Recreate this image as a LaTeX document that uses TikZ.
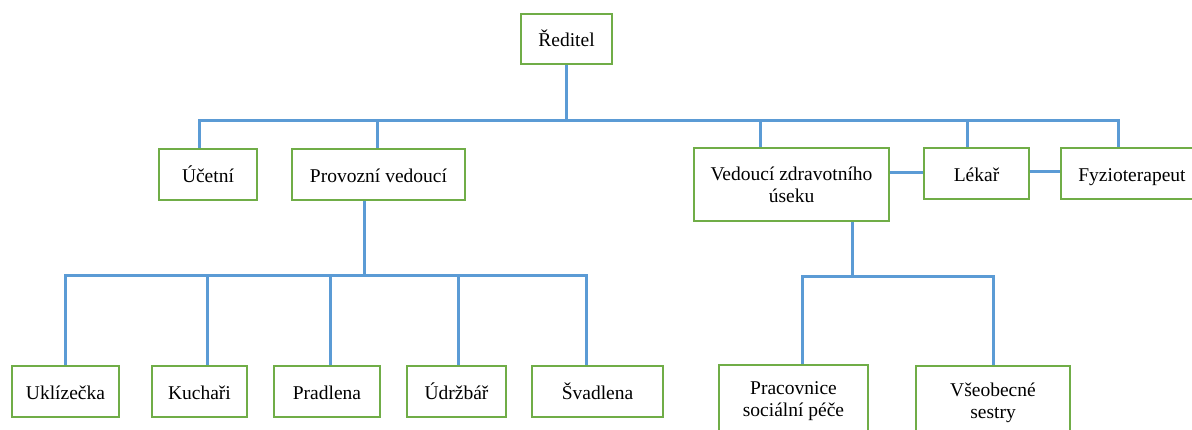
\documentclass[tikz,border=0pt]{standalone}
\usepackage{fontspec}
\setmainfont{Liberation Serif}
\definecolor{conblue}{HTML}{5B9BD5}
\definecolor{boxgreen}{HTML}{70AD47}
\begin{document}
\begin{tikzpicture}[x=1pt,y=-1pt,
  box/.style={draw=boxgreen,line width=1.8pt,fill=white,rectangle,inner sep=0pt,
    font=\fontsize{19.5}{22}\selectfont,align=center,anchor=center},
  one/.style={box,text height=17pt,text depth=1pt},
  conn/.style={draw=conblue,line width=3pt}]
\clip (0,0) rectangle (1192,430);
\fill[white] (0,0) rectangle (1192,430);
% top
\node[one,minimum width=91pt,minimum height=50pt] (red) at (566.5,39) {Ředitel};
% level 1
\node[one,minimum width=98pt,minimum height=51pt] (uc) at (208,174.5) {Účetní};
\node[one,minimum width=173pt,minimum height=51pt] (pv) at (378.5,174.5) {Provozní vedoucí};
\node[box,minimum width=195pt,minimum height=73pt] (vz) at (791.5,184.5) {Vedoucí zdravotního\\úseku};
\node[one,minimum width=105pt,minimum height=51pt] (lek) at (976.5,173.5) {Lékař};
\node[one,minimum width=142pt,minimum height=51pt] (fyz) at (1132,173.5) {Fyzioterapeut};
% level 2
\node[one,minimum width=107pt,minimum height=51pt] (ukl) at (65.5,391.5) {Uklízečka};
\node[one,minimum width=95pt,minimum height=51pt] (kuch) at (199.5,391.5) {Kuchaři};
\node[one,minimum width=106pt,minimum height=51pt] (prad) at (327,391.5) {Pradlena};
\node[one,minimum width=99pt,minimum height=51pt] (udr) at (456.5,391.5) {Údržbář};
\node[one,minimum width=131pt,minimum height=51pt] (sva) at (597.5,391.5) {Švadlena};
\node[box,minimum width=149pt,minimum height=73pt] (prac) at (793.5,401.5) {Pracovnice\\sociální péče};
\node[box,minimum width=154pt,minimum height=73pt] (vse) at (993,402.5) {Všeobecné\\sestry};
% bus coordinates
\coordinate (b0) at (566.5,121);
\coordinate (b-uc) at (199,121);
\coordinate (b-pv) at (377,121);
\coordinate (b-vz) at (760,121);
\coordinate (b-lek) at (967,121);
\coordinate (b-fyz) at (1118,121);
\coordinate (c0) at (364,276);
\coordinate (c-ukl) at (65,276);
\coordinate (c-kuch) at (207,276);
\coordinate (c-prad) at (330,276);
\coordinate (c-udr) at (458,276);
\coordinate (c-sva) at (586,276);
\coordinate (d0) at (852,277);
\coordinate (d-prac) at (802,277);
\coordinate (d-vse) at (993,277);
% connectors
\draw[conn] (red.south) -- (b0);
\draw[conn] (b-uc |- uc.north) -- (b-uc) -- (b-fyz) -- (b-fyz |- fyz.north);
\draw[conn] (b-pv) -- (b-pv |- pv.north);
\draw[conn] (b-vz) -- (b-vz |- vz.north);
\draw[conn] (b-lek) -- (b-lek |- lek.north);
\draw[conn] (vz.east |- 0,173) -- (lek.west |- 0,173);
\draw[conn] (lek.east |- 0,172) -- (fyz.west |- 0,172);
\draw[conn] (c0 |- pv.south) -- (c0);
\draw[conn] (c-ukl |- ukl.north) -- (c-ukl) -- (c-sva) -- (c-sva |- sva.north);
\draw[conn] (c-kuch) -- (c-kuch |- kuch.north);
\draw[conn] (c-prad) -- (c-prad |- prad.north);
\draw[conn] (c-udr) -- (c-udr |- udr.north);
\draw[conn] (d0 |- vz.south) -- (d0);
\draw[conn] (d-prac |- prac.north) -- (d-prac) -- (d-vse) -- (d-vse |- vse.north);
\end{tikzpicture}
\end{document}
